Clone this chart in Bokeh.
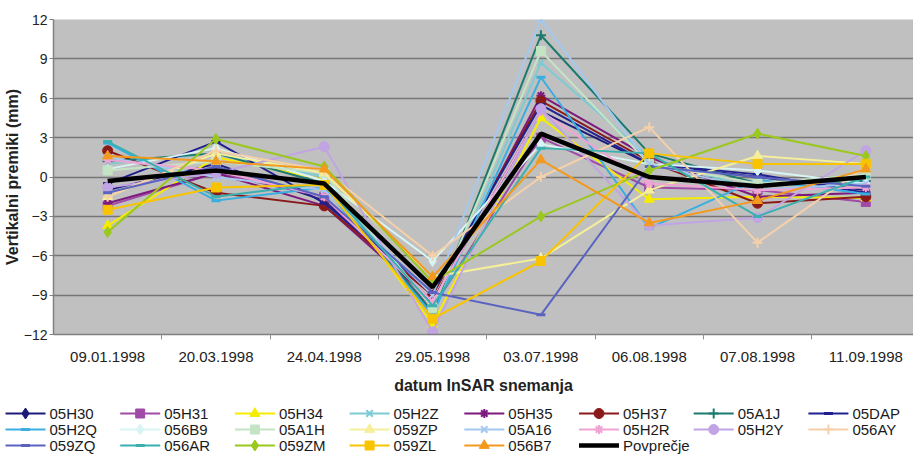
from bokeh.plotting import figure
from bokeh.models import Range1d, FixedTicker
from bokeh.core.properties import value
from bokeh.embed import file_html
from bokeh.resources import INLINE

dates = ["09.01.1998", "20.03.1998", "24.04.1998", "29.05.1998",
         "03.07.1998", "06.08.1998", "07.08.1998", "11.09.1998"]
y_ticks = [-12, -9, -6, -3, 0, 3, 6, 9, 12]

# vertical displacements (mm) per point, one value per acquisition date
v_05H30 = [-1.0, 1.0, -1.8, -9.5, 5.0, 1.0, 0.0, -1.0]
v_05H31 = [-2.2, 0.3, -1.5, -10.0, 3.0, -0.8, -1.0, -1.9]
v_05H34 = [-3.7, 1.5, -0.2, -11.2, 4.5, -1.7, -1.5, -1.6]
v_05H2Z = [1.0, 1.8, 0.0, -10.5, 8.7, 1.5, -1.0, -0.5]
v_05H35 = [-2.0, 0.3, -2.2, -9.5, 6.2, 1.5, -1.5, -1.2]
v_05H37 = [2.0, -1.2, -2.2, -9.0, 5.8, 1.2, -2.0, -1.5]
v_05A1J = [1.2, 1.8, -0.5, -10.3, 10.8, 1.8, -0.5, -0.3]
v_05DAP = [-0.5, 2.7, -2.0, -8.8, 5.5, 1.0, 0.2, -1.2]
v_05H2Q = [2.6, -1.8, -0.8, -10.5, 7.6, -3.9, -0.2, -1.3]
v_056B9 = [0.6, 2.2, -0.3, -6.4, 2.5, 1.0, 0.5, -0.5]
v_05A1H = [0.5, 1.2, 0.3, -10.0, 9.6, 1.0, -0.5, 0.2]
v_059ZP = [-1.5, 1.8, 0.3, -7.6, -6.2, -1.0, 1.6, 1.0]
v_05A16 = [1.5, 0.0, -1.0, -9.0, 12.0, 1.0, -1.0, -0.5]
v_05H2R = [1.3, 0.5, -1.5, -9.5, 5.0, -0.5, -1.0, -0.8]
v_05H2Y = [-0.8, 0.3, 2.3, -11.8, 5.2, -3.7, -3.1, 2.0]
v_056AY = [-1.5, 2.0, 0.5, -6.0, 0.0, 3.8, -5.0, 0.8]
v_059ZQ = [-1.2, 0.8, -1.5, -8.8, -10.5, 0.8, 0.0, -0.7]
v_056AR = [2.7, -1.5, -0.5, -9.8, 2.2, 1.8, -3.0, 0.0]
v_059ZM = [-4.2, 2.9, 0.8, -8.0, -3.0, 0.5, 3.3, 1.6]
v_059ZL = [-2.5, -0.8, -0.6, -10.8, -6.4, 1.8, 1.0, 1.0]
v_056B7 = [1.6, 1.2, 0.6, -7.6, 1.3, -3.5, -1.8, 0.6]
v_avg = [-0.3, 0.5, -0.5, -8.4, 3.3, 0.0, -0.7, 0.0]

series = [
    ("05H30", v_05H30, "#1c1c78", "diamond", 11),
    ("05H31", v_05H31, "#a04aa8", "square", 9),
    ("05H34", v_05H34, "#f5ec00", "triangle", 10),
    ("05H2Z", v_05H2Z, "#7ccbd3", "x", 9),
    ("05H35", v_05H35, "#7d1a7d", "asterisk", 9),
    ("05H37", v_05H37, "#8a1a1a", "circle", 10),
    ("05A1J", v_05A1J, "#1a7a6e", "cross", 10),
    ("05DAP", v_05DAP, "#202090", "dash", 9),
    ("05H2Q", v_05H2Q, "#3aaee0", "dash", 9),
    ("056B9", v_056B9, "#d8f4f4", "diamond", 11),
    ("05A1H", v_05A1H, "#c4e4c4", "square", 9),
    ("059ZP", v_059ZP, "#f6ef9a", "triangle", 10),
    ("05A16", v_05A16, "#a4c8f0", "x", 9),
    ("05H2R", v_05H2R, "#f0a4d4", "asterisk", 9),
    ("05H2Y", v_05H2Y, "#c0a4e4", "circle", 10),
    ("056AY", v_056AY, "#f6d0a8", "cross", 10),
    ("059ZQ", v_059ZQ, "#5a64c0", "dash", 9),
    ("056AR", v_056AR, "#3ab0b0", "dash", 9),
    ("059ZM", v_059ZM, "#9ac81e", "diamond", 11),
    ("059ZL", v_059ZL, "#f8c400", "square", 9),
    ("056B7", v_056B7, "#f39a1e", "triangle", 10),
]
avg_name = "Povprečje"

FONT = "Liberation Sans"
x = list(range(len(dates)))
W = 913


def marker_lw(marker):
    if marker == "dash":
        return 3
    if marker in ("x", "asterisk", "cross"):
        return 2
    return 1


# ---------------- main chart ----------------
p = figure(width=W, height=396, output_backend="svg", toolbar_location=None,
           x_range=Range1d(-0.5, 7.44), y_range=Range1d(-12, 12),
           min_border_left=44, min_border_right=0, min_border_top=19,
           min_border_bottom=62, background_fill_color="#c0c0c0",
           border_fill_color="white")
p.outline_line_color = None

p.xgrid.visible = False
p.ygrid.grid_line_color = "#767676"
p.ygrid.grid_line_width = 1.5

p.xaxis.ticker = FixedTicker(ticks=x, minor_ticks=[i + 0.5 for i in x[:-1]])
p.xaxis.major_label_overrides = {i: d for i, d in enumerate(dates)}
p.xaxis.major_tick_line_color = None
p.xaxis.minor_tick_line_color = "#909090"
p.xaxis.minor_tick_out = 5
p.xaxis.minor_tick_in = 0
p.xaxis.major_label_standoff = 11
p.xaxis.axis_label = "datum InSAR snemanja"
p.xaxis.axis_label_standoff = 12

p.yaxis.ticker = FixedTicker(ticks=y_ticks)
p.yaxis.minor_tick_line_color = None
p.yaxis.major_tick_out = 4
p.yaxis.major_tick_in = 0
p.yaxis.major_tick_line_color = "#808080"
p.yaxis.major_label_standoff = 2
p.yaxis.axis_label = "Vertikalni premiki (mm)"
p.yaxis.axis_label_standoff = 0

for ax in (p.xaxis[0], p.yaxis[0]):
    ax.axis_line_color = "#808080"
    ax.axis_line_width = 1.5
    ax.major_label_text_font = FONT
    ax.major_label_text_font_size = "15px"
    ax.major_label_text_color = "#222222"
    ax.axis_label_text_font = FONT
    ax.axis_label_text_font_size = "16px"
    ax.axis_label_text_font_style = "bold"
    ax.axis_label_text_color = "#222222"
p.yaxis.major_label_text_font_size = "14px"

for name, vals, col, marker, size in series:
    p.line(x, vals, line_color=col, line_width=2)
    p.scatter(x, vals, marker=marker, size=size, line_color=col,
              fill_color=col, line_width=marker_lw(marker))
p.line(x, v_avg, line_color="black", line_width=4.5)

# ---------------- legend strip (8 columns x 3 rows) ----------------
LH = 58
lg = figure(width=W, height=LH, output_backend="svg", toolbar_location=None,
            x_axis_type=None, y_axis_type=None, x_range=Range1d(0, W),
            y_range=Range1d(0, LH), min_border=0, border_fill_color="white",
            background_fill_color="white")
lg.outline_line_color = None
lg.grid.visible = False

COLW, ROWH, SAMPLE = 114.7, 16, 40
entries = [(n, c, m, s) for n, _, c, m, s in series] + [(avg_name, "black", None, 0)]
for i, (name, col, marker, size) in enumerate(entries):
    cx = (i % 8) * COLW + 5
    cy = LH - 17 - (i // 8) * ROWH
    if marker is None:
        lg.line([cx, cx + SAMPLE], [cy, cy], line_color=col, line_width=4.5)
    else:
        lg.line([cx, cx + SAMPLE], [cy, cy], line_color=col, line_width=2)
        lg.scatter([cx + SAMPLE / 2], [cy], marker=marker, size=size,
                   line_color=col, fill_color=col, line_width=marker_lw(marker))
    lg.text([cx + SAMPLE + 4], [cy], text=[name], text_font=value(FONT),
            text_font_size="15px", text_baseline="middle", text_align="left",
            text_color="#1a1a1a")

open("out.html", "w").write(file_html([p, lg], INLINE))
